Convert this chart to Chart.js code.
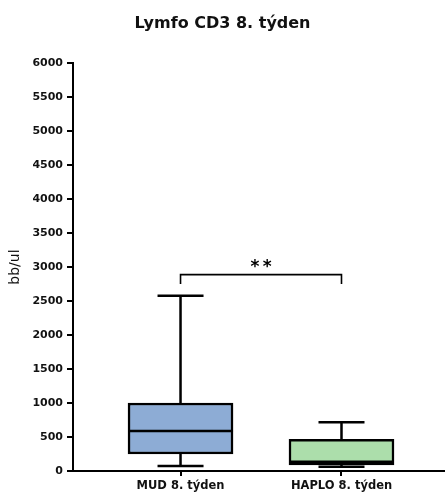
<!DOCTYPE html>
<html>
<head>
<meta charset="utf-8">
<script src="https://cdn.jsdelivr.net/npm/chart.js@4.4.1/dist/chart.umd.min.js"></script>
<style>
  html, body { margin: 0; padding: 0; background: #ffffff; }
  #wrap { width: 445px; height: 495px; }
</style>
</head>
<body>
<div id="wrap"><canvas id="c" width="445" height="495"></canvas></div>
<script>
// ---- Data ----
const categories = ['MUD 8. týden', 'HAPLO 8. týden'];
const minVals    = [75, 63];
const q1Vals     = [250, 90];
const medianVals = [590, 135];
const q3Vals     = [1000, 466];
const maxVals    = [2580, 716];
const boxColors  = ['#8dacd5', '#acdeab'];
const yMin = 0, yMax = 6000, yStep = 500;
const sigLabel = '**';
const sigLevel = 2890;   // bracket height (data units)
const sigDrop  = 2750;   // bracket end height (data units)

const boxData = categories.map((c, i) => ({ x: i + 1, y: [q1Vals[i], q3Vals[i]] }));

const LW = 2.5;
const BOX_W = 105;
const CAP_W = 46;

const boxPlugin = {
  id: 'boxExtras',
  afterDatasetsDraw(chart) {
    const ctx = chart.ctx;
    const xs = chart.scales.x, ys = chart.scales.y;
    ctx.save();
    ctx.strokeStyle = '#000';
    ctx.lineWidth = LW;
    ctx.lineCap = 'butt';
    categories.forEach((c, i) => {
      const x = xs.getPixelForValue(i + 1);
      const yMaxP = ys.getPixelForValue(maxVals[i]);
      const yMinP = ys.getPixelForValue(minVals[i]);
      const yQ1 = ys.getPixelForValue(q1Vals[i]);
      const yQ3 = ys.getPixelForValue(q3Vals[i]);
      const yMed = ys.getPixelForValue(medianVals[i]);
      ctx.beginPath();
      ctx.moveTo(x, yQ3); ctx.lineTo(x, yMaxP);
      ctx.moveTo(x - CAP_W / 2, yMaxP); ctx.lineTo(x + CAP_W / 2, yMaxP);
      ctx.moveTo(x, yQ1); ctx.lineTo(x, yMinP);
      ctx.moveTo(x - CAP_W / 2, yMinP); ctx.lineTo(x + CAP_W / 2, yMinP);
      ctx.moveTo(x - BOX_W / 2, yMed); ctx.lineTo(x + BOX_W / 2, yMed);
      ctx.stroke();
    });
    const x1 = xs.getPixelForValue(1), x2 = xs.getPixelForValue(2);
    const yb = ys.getPixelForValue(sigLevel), yd = ys.getPixelForValue(sigDrop);
    ctx.lineWidth = 1.6;
    ctx.beginPath();
    ctx.moveTo(x1, yd); ctx.lineTo(x1, yb); ctx.lineTo(x2, yb); ctx.lineTo(x2, yd);
    ctx.stroke();
    ctx.fillStyle = '#000';
    ctx.font = 'bold 17px "DejaVu Sans"';
    ctx.textAlign = 'center';
    ctx.textBaseline = 'bottom';
    ctx.fillText(sigLabel.split('').join('\u2009'), (x1 + x2) / 2, yb + 2);
    ctx.restore();
  }
};

new Chart(document.getElementById('c'), {
  type: 'bar',
  data: {
    datasets: [{
      data: boxData,
      backgroundColor: boxColors,
      borderColor: '#000',
      borderWidth: LW,
      borderSkipped: false,
      barThickness: BOX_W,
      grouped: false
    }]
  },
  options: {
    responsive: false,
    animation: false,
    layout: { padding: { left: 0, right: 0, top: 0, bottom: 0 } },
    plugins: {
      legend: { display: false },
      tooltip: { enabled: false },
      title: {
        display: true,
        text: 'Lymfo CD3 8. týden',
        color: '#111',
        font: { family: 'DejaVu Sans', size: 16, weight: 'bold' },
        padding: { top: 14, bottom: 30 }
      }
    },
    scales: {
      x: {
        type: 'linear',
        offset: false,
        min: 0.332,
        max: 2.643,
        afterBuildTicks(scale) { scale.ticks = categories.map((c, i) => ({ value: i + 1 })); },
        afterFit(scale) { scale.height = 24; },
        ticks: {
          color: '#111',
          font: { family: 'DejaVu Sans', size: 11.5, weight: 'bold' },
          padding: 3,
          maxRotation: 0,
          autoSkip: false,
          callback: (v) => categories[Math.round(v) - 1] || ''
        },
        grid: { display: true, offset: false, drawOnChartArea: false, drawTicks: true, tickLength: 5, color: '#000', lineWidth: 2 },
        border: { display: true, color: '#000', width: 2 }
      },
      y: {
        min: yMin,
        max: yMax,
        afterFit(scale) { scale.width = 73; },
        ticks: {
          stepSize: yStep,
          color: '#111',
          font: { family: 'DejaVu Sans', size: 11, weight: 'bold' },
          padding: 4,
          callback: (v) => String(v)
        },
        grid: { display: true, drawOnChartArea: false, drawTicks: true, tickLength: 6, color: '#000', lineWidth: 2 },
        border: { display: true, color: '#000', width: 2 },
        title: {
          display: true,
          text: 'bb/ul',
          color: '#111',
          font: { family: 'DejaVu Sans', size: 14 },
          padding: { top: 7, bottom: 0 }
        }
      }
    }
  },
  plugins: [boxPlugin]
});
</script>
</body>
</html>
